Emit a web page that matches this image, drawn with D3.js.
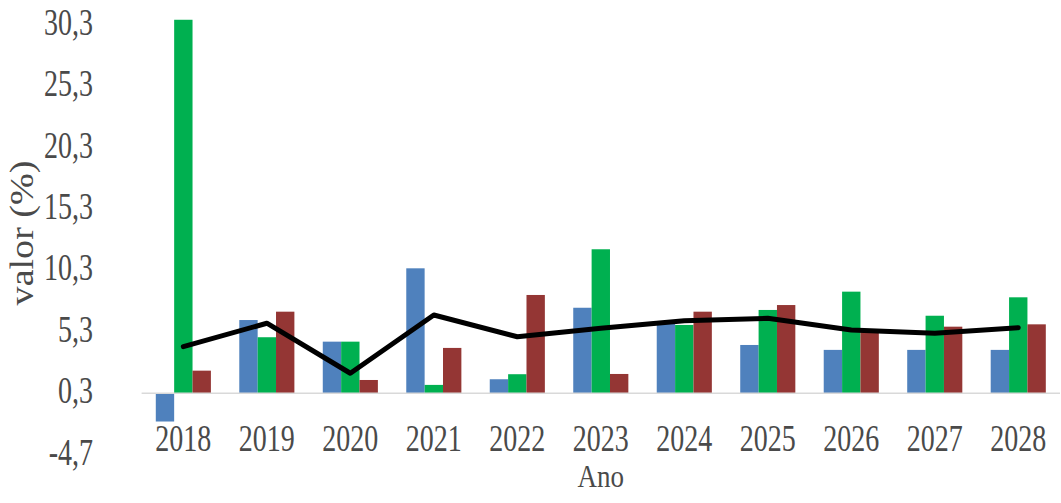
<!DOCTYPE html>
<html>
<head>
<meta charset="utf-8">
<script src="https://cdn.jsdelivr.net/npm/d3@7"></script>
<style>
  html, body { margin: 0; padding: 0; background: #fff; }
  svg { display: block; }
  text { font-family: "Liberation Serif", "Times New Roman", serif; fill: #4a4a4a; }
</style>
</head>
<body>
<svg id="chart" width="1061" height="503"></svg>
<script>
// ---- data ----
const years = ["2018","2019","2020","2021","2022","2023","2024","2025","2026","2027","2028"];
const seriesBlue  = [-2.3, 5.96, 4.2, 10.17, 1.14, 6.96, 5.83, 3.93, 3.53, 3.53, 3.53];
const seriesGreen = [30.4, 4.56, 4.2, 0.68, 1.55, 11.72, 5.56, 6.78, 8.27, 6.31, 7.81];
const seriesRed   = [1.84, 6.64, 1.08, 3.69, 8.0, 1.57, 6.64, 7.18, 5.15, 5.42, 5.61];
const seriesLine  = [3.8, 5.7, 1.63, 6.37, 4.6, 5.29, 5.9, 6.1, 5.15, 4.88, 5.34];
const yTickValues = [-4.7, 0.3, 5.3, 10.3, 15.3, 20.3, 25.3, 30.3];
const yTickLabels = ["-4,7", "0,3", "5,3", "10,3", "15,3", "20,3", "25,3", "30,3"];
const seriesNames = ["blue", "green", "red"];
const colors = { blue: "#4F81BD", green: "#00B050", red: "#943634" };
const yTitle = "valor (%)";
const xTitle = "Ano";

// ---- layout ----
const svg = d3.select("#chart");
const mLeft = 141.6, mRight = 1060, mTop = 21, mBottom = 451;
const vStretch = 1.38;

const x = d3.scaleBand().domain(years).range([mLeft, mRight]).paddingInner(0.34).paddingOuter(0.17);
const xi = d3.scaleBand().domain(seriesNames).range([0, x.bandwidth()]);
const y = d3.scaleLinear().domain([-4.7, 30.3]).range([mBottom, mTop]);

const rows = years.map((yr, i) => ({
  year: yr,
  values: [
    { key: "blue", v: seriesBlue[i] },
    { key: "green", v: seriesGreen[i] },
    { key: "red", v: seriesRed[i] }
  ]
}));

// bars
const g = svg.append("g");
g.selectAll("g.grp").data(rows).join("g")
  .attr("class", "grp")
  .attr("transform", d => `translate(${x(d.year)},0)`)
  .selectAll("rect").data(d => d.values).join("rect")
  .attr("x", d => xi(d.key))
  .attr("width", xi.bandwidth())
  .attr("y", d => y(Math.max(0, d.v)))
  .attr("height", d => Math.abs(y(d.v) - y(0)))
  .attr("fill", d => colors[d.key]);

// horizontal axis line at 0
svg.append("line")
  .attr("x1", mLeft).attr("x2", mRight)
  .attr("y1", y(0)).attr("y2", y(0))
  .attr("stroke", "#d9d9d9").attr("stroke-width", 1.5);

// line series
const line = d3.line()
  .x((d, i) => x(years[i]) + x.bandwidth() / 2)
  .y(d => y(d))
  .curve(d3.curveLinear);
svg.append("path")
  .datum(seriesLine)
  .attr("d", line)
  .attr("fill", "none")
  .attr("stroke", "#000")
  .attr("stroke-width", 5)
  .attr("stroke-linejoin", "round")
  .attr("stroke-linecap", "round");

// y axis
const yAxis = d3.axisLeft(y)
  .tickValues(yTickValues)
  .tickFormat((d, i) => yTickLabels[i])
  .tickSize(0).tickPadding(0);
const ya = svg.append("g").attr("transform", "translate(93,0)").call(yAxis);
ya.select(".domain").remove();
ya.selectAll("text")
  .attr("x", 0).attr("dy", null).attr("y", 0)
  .attr("dominant-baseline", "central")
  .attr("transform", `scale(1,${vStretch})`)
  .style("font-size", "28px")
  .style("font-family", "'Liberation Serif', serif")
  .attr("fill", "#4a4a4a");

// x axis
const xAxis = d3.axisBottom(x).tickSize(0).tickPadding(0);
const xa = svg.append("g").attr("transform", `translate(0,${y(0)})`).call(xAxis);
xa.select(".domain").remove();
xa.selectAll("text")
  .attr("y", 0).attr("dy", null)
  .attr("transform", `translate(0,${451 - y(0)}) scale(1,${vStretch})`)
  .style("font-size", "28px")
  .style("font-family", "'Liberation Serif', serif")
  .attr("fill", "#4a4a4a");

// axis titles
svg.append("text")
  .attr("transform", `translate(${(mLeft + mRight) / 2},487) scale(1,1.15)`)
  .attr("text-anchor", "middle")
  .style("font-size", "27px")
  .text(xTitle);

svg.append("text")
  .attr("transform", `translate(33,233) scale(1,1.12) rotate(-90)`)
  .attr("text-anchor", "middle")
  .style("font-size", "34px")
  .text(yTitle);
</script>
</body>
</html>
